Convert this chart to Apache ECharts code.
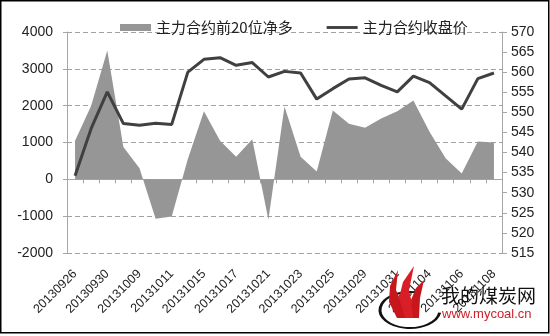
<!DOCTYPE html>
<html><head><meta charset="utf-8">
<script src="https://cdn.jsdelivr.net/npm/echarts@6/dist/echarts.min.js"></script>
<style>html,body{margin:0;padding:0;background:#fff}#c{width:550px;height:336px}</style>
</head><body><div id="c"></div>
<script>
var categories = ['20130926','20130927','20130930','20131008','20131009','20131010','20131011','20131014','20131015','20131016','20131017','20131018','20131021','20131022','20131023','20131024','20131025','20131028','20131029','20131030','20131031','20131101','20131104','20131105','20131106','20131107','20131108'];
var netLong = [1050,2000,3500,880,300,-1070,-1010,550,1850,1050,610,1090,-1100,1980,610,210,1870,1510,1400,1650,1850,2140,1290,570,160,1030,1000];
var closePrice = [534.2,546.0,555.1,547.2,546.8,547.3,547.0,560.0,563.2,563.6,561.7,562.4,558.8,560.2,559.8,553.3,555.9,558.3,558.6,556.7,555.1,559.0,557.4,554.1,550.8,558.4,559.8];
var seriesNames = ['主力合约前20位净多','主力合约收盘价'];

var chart = echarts.init(document.getElementById('c'), null, {renderer:'canvas'});
var axisGray = '#a6a6a6';
var font = '"Liberation Sans", "Noto Sans", sans-serif';
chart.setOption({
  animation:false,
  backgroundColor:'#fff',
  textStyle:{fontFamily:font},
  legend:{
    top:15, left:115, itemGap:34, itemWidth:31, itemHeight:7,
    textStyle:{fontSize:15, color:'#222', fontFamily:'"Noto Sans CJK SC", sans-serif'},
    data:[{name:seriesNames[0], icon:'rect'},{name:seriesNames[1], icon:'path://M0,0H32V3H0Z', itemStyle:{color:'#404040'}}]
  },
  grid:{left:67, right:48, top:32, bottom:83},
  xAxis:[{
    type:'category', data:categories, position:'bottom',
    axisLine:{onZero:true, onZeroAxisIndex:0, lineStyle:{color:axisGray, width:1}},
    axisTick:{show:true, interval:0, length:4, lineStyle:{color:axisGray}},
    axisLabel:{show:false}, splitLine:{show:false}
  },{
    type:'category', data:categories, position:'bottom',
    axisLine:{show:false, onZero:false}, axisTick:{show:false},
    axisLabel:{interval:1, rotate:45, fontSize:12.5, color:'#222', margin:19, fontFamily:font},
    splitLine:{show:false}
  }],
  yAxis:[{
    type:'value', min:-2000, max:4000, interval:1000, position:'left',
    axisLine:{show:true, lineStyle:{color:axisGray}},
    axisTick:{show:true, length:4, lineStyle:{color:axisGray}},
    axisLabel:{fontSize:14, color:'#222', margin:14, fontFamily:font, formatter:function(v){return String(v);}},
    splitLine:{show:true, lineStyle:{color:'#a0a0a0', type:[5,3], width:1}}
  },{
    type:'value', min:515, max:570, interval:5, position:'right',
    axisLine:{show:true, lineStyle:{color:axisGray}},
    axisTick:{show:true, length:5, lineStyle:{color:axisGray}},
    axisLabel:{fontSize:14, color:'#222', margin:9, fontFamily:font, formatter:function(v){return String(v);}},
    splitLine:{show:false}
  }],
  series:[{
    name:seriesNames[0], type:'line', xAxisIndex:0, yAxisIndex:0, data:netLong,
    symbol:'none', lineStyle:{width:0}, itemStyle:{color:'#969696'},
    areaStyle:{color:'#969696', opacity:1}, z:1
  },{
    name:seriesNames[1], type:'line', xAxisIndex:0, yAxisIndex:1, data:closePrice,
    symbol:'none', lineStyle:{width:3, color:'#404040'}, itemStyle:{color:'#404040'}, z:3
  }],
  graphic:[
    {type:'rect', shape:{x:0.75, y:0.75, width:548, height:332}, style:{fill:'none', stroke:'#000', lineWidth:1.5}, z:100},
    {type:'arc', x:410, y:310, scaleY:0.6, shape:{cx:0, cy:0, r:30, startAngle:0.15, endAngle:5.0, clockwise:true}, style:{fill:'none', stroke:'#111', lineWidth:3}, z:50},
    {type:'polygon', shape:{points:[[397,318],[389,302],[390,286],[398,270],[396,290],[403,306],[407,318]]}, style:{fill:'#c8161d'}, z:51},
    {type:'polygon', shape:{points:[[405,318],[399,298],[403,282],[414,266],[409,290],[413,308],[413,318]]}, style:{fill:'#d81e26'}, z:51},
    {type:'polygon', shape:{points:[[413,318],[411,300],[416,288],[424,280],[420,298],[419,318]]}, style:{fill:'#c8161d'}, z:51},
    {type:'text', x:441, y:286, style:{text:'我的煤炭网', font:'19px "Noto Sans CJK SC", sans-serif', fill:'#111'}, z:52},
    {type:'text', x:442, y:308, style:{text:'www.mycoal.cn', font:'13px "Liberation Sans", sans-serif', fill:'#d0202a'}, z:52}
  ]
});
</script></body></html>
